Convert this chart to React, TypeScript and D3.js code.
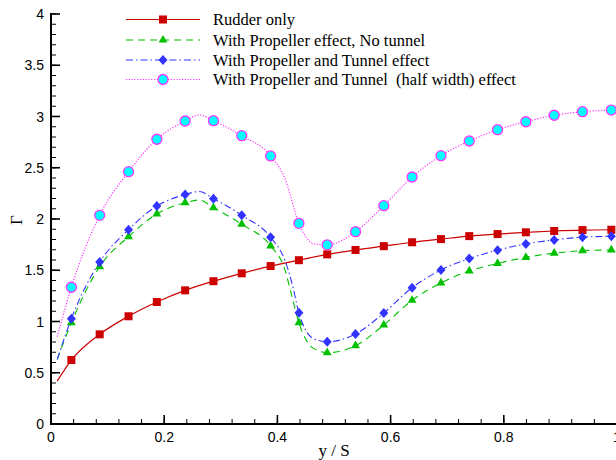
import React from 'react';
import * as d3 from 'd3';

// ---- data ----
const markerX = [0.036, 0.086, 0.137, 0.187, 0.237, 0.287, 0.337, 0.388, 0.438, 0.488, 0.538, 0.588, 0.638, 0.689, 0.739, 0.789, 0.839, 0.889, 0.939, 0.99];
const startX = 0.011;

const rudderStart = 0.42;
const rudderY = [0.624, 0.875, 1.051, 1.19, 1.304, 1.393, 1.47, 1.541, 1.598, 1.655, 1.698, 1.735, 1.773, 1.804, 1.833, 1.853, 1.87, 1.883, 1.892, 1.895];
const rudderExtraX: number[] = [];
const rudderExtraY: number[] = [];

const propStart = 0.63;
const propY = [0.988, 1.535, 1.828, 2.049, 2.159, 2.11, 1.949, 1.737, 0.988, 0.696, 0.764, 0.966, 1.207, 1.376, 1.493, 1.566, 1.626, 1.666, 1.691, 1.698];
const propExtraX = [0.262, 0.413, 0.425, 0.463];
const propExtraY = [2.185, 1.51, 1.26, 0.74];

const tunnelStart = 0.63;
const tunnelY = [1.028, 1.58, 1.896, 2.127, 2.239, 2.198, 2.037, 1.821, 1.086, 0.802, 0.878, 1.083, 1.33, 1.503, 1.614, 1.696, 1.757, 1.795, 1.823, 1.831];
const tunnelExtraX = [0.262, 0.413, 0.425, 0.463];
const tunnelExtraY = [2.268, 1.6, 1.39, 0.835];

const halfStart = 0.852;
const halfY = [1.334, 2.036, 2.462, 2.778, 2.956, 2.959, 2.813, 2.615, 1.958, 1.748, 1.876, 2.13, 2.41, 2.618, 2.761, 2.871, 2.949, 3.012, 3.047, 3.063];
const halfExtraX = [0.262, 0.413, 0.463, 0.475];
const halfExtraY = [3.015, 2.4, 1.76, 1.75];

const legendLabels = [
  'Rudder only',
  'With Propeller effect, No tunnel',
  'With Propeller and Tunnel effect',
  'With Propeller and Tunnel  (half width) effect',
];
const xTickLabels = ['0', '0.2', '0.4', '0.6', '0.8', '1'];
const yTickLabels = ['0', '0.5', '1', '1.5', '2', '2.5', '3', '3.5', '4'];

// ---- layout ----
const W = 616, H = 460;
const x = d3.scaleLinear().domain([0, 1]).range([51, 617]);
const y = d3.scaleLinear().domain([0, 4]).range([424, 14]);

type Pt = [number, number];
function buildLine(start: number, ys: number[], ex: number[], ey: number[]): Pt[] {
  const pts: Pt[] = [[startX, start]];
  markerX.forEach((mx, i) => pts.push([mx, ys[i]]));
  ex.forEach((v, i) => pts.push([v, ey[i]]));
  pts.sort((a, b) => a[0] - b[0]);
  return pts;
}

const series = [
  { key: 'rudder', line: buildLine(rudderStart, rudderY, rudderExtraX, rudderExtraY), marks: rudderY, color: '#cc0000', dash: undefined as string | undefined, width: 1.2, sym: 'square' },
  { key: 'prop', line: buildLine(propStart, propY, propExtraX, propExtraY), marks: propY, color: '#00c000', dash: '7,5', width: 1.1, sym: 'triangle' },
  { key: 'tunnel', line: buildLine(tunnelStart, tunnelY, tunnelExtraX, tunnelExtraY), marks: tunnelY, color: '#3333ff', dash: '7,3,1.5,3', width: 1.1, sym: 'diamond' },
  { key: 'half', line: buildLine(halfStart, halfY, halfExtraX, halfExtraY), marks: halfY, color: '#ff33ff', dash: '1.2,1.6', width: 1.2, sym: 'circle' },
];

const lineGen = d3.line<Pt>().x(d => x(d[0])).y(d => y(d[1])).curve(d3.curveMonotoneX);

function Marker({ sym, cx, cy }: { sym: string; cx: number; cy: number }) {
  if (sym === 'square') return <rect x={cx - 4} y={cy - 4} width={8} height={8} fill="#cc0000" />;
  if (sym === 'triangle') {
    const p = d3.symbol().type(d3.symbolTriangle).size(34)()!;
    return <path d={p} transform={`translate(${cx},${cy})`} fill="#00c000" />;
  }
  if (sym === 'diamond') return <path d={`M${cx},${cy - 5}L${cx + 4.5},${cy}L${cx},${cy + 5}L${cx - 4.5},${cy}Z`} fill="#3333ff" />;
  return <circle cx={cx} cy={cy} r={5} fill="#00ffff" stroke="#ff33ff" strokeWidth={1.3} />;
}

export default function App() {
  const xMajor = d3.range(0, 6).map(i => i * 0.2);
  const xMinor = d3.range(0, 26).map(i => i * 0.04);
  const yMajor = d3.range(0, 9).map(i => i * 0.5);
  const yMinor = d3.range(0, 41).map(i => i * 0.1);
  const legendY = [19.5, 40, 60, 79.5];

  return (
    <svg width={W} height={H} style={{ position: 'absolute', left: 0, top: 0, background: '#fff' }}>
      {/* axes */}
      <line x1={51} y1={424} x2={617} y2={424} stroke="#000" strokeWidth={2} />
      <line x1={51} y1={425} x2={51} y2={13} stroke="#000" strokeWidth={2} />
      {xMinor.map((v, i) => (
        <line key={'xm' + i} x1={x(v)} x2={x(v)} y1={424} y2={419} stroke="#000" strokeWidth={1} />
      ))}
      {xMajor.map((v, i) => (
        <line key={'xM' + i} x1={x(v)} x2={x(v)} y1={424} y2={415} stroke="#000" strokeWidth={1.6} />
      ))}
      {yMinor.map((v, i) => (
        <line key={'ym' + i} x1={51} x2={56} y1={y(v)} y2={y(v)} stroke="#000" strokeWidth={1} />
      ))}
      {yMajor.map((v, i) => (
        <line key={'yM' + i} x1={51} x2={60} y1={y(v)} y2={y(v)} stroke="#000" strokeWidth={1.6} />
      ))}
      {xMajor.map((v, i) => (
        <text key={'xl' + i} x={x(v)} y={442} textAnchor="middle" fontFamily="Liberation Sans, Arial, sans-serif" fontSize={14}>{xTickLabels[i]}</text>
      ))}
      {yMajor.map((v, i) => (
        <text key={'yl' + i} x={44} y={y(v) + 5} textAnchor="end" fontFamily="Liberation Sans, Arial, sans-serif" fontSize={14}>{yTickLabels[i]}</text>
      ))}
      <text x={334} y={456} textAnchor="middle" fontFamily="Liberation Serif, Times New Roman, serif" fontSize={17}>y / S</text>
      <text transform="translate(22,220) rotate(-90)" textAnchor="middle" fontFamily="Liberation Serif, Times New Roman, serif" fontSize={17}>Γ</text>

      {/* series */}
      {series.map(s => (
        <g key={s.key}>
          <path d={lineGen(s.line)!} fill="none" stroke={s.color} strokeWidth={s.width} strokeDasharray={s.dash} />
          {s.marks.map((v, i) => (
            <Marker key={i} sym={s.sym} cx={x(markerX[i])} cy={y(v)} />
          ))}
        </g>
      ))}

      {/* legend */}
      {series.map((s, i) => (
        <g key={'lg' + i}>
          <line x1={126} x2={200} y1={legendY[i]} y2={legendY[i]} stroke={s.color} strokeWidth={s.width} strokeDasharray={s.dash} />
          <Marker sym={s.sym} cx={163} cy={legendY[i]} />
          <text x={213} y={legendY[i] + 5.5} fontFamily="Liberation Serif, Times New Roman, serif" fontSize={16.5} style={{ whiteSpace: 'pre' }}>{legendLabels[i]}</text>
        </g>
      ))}
    </svg>
  );
}
